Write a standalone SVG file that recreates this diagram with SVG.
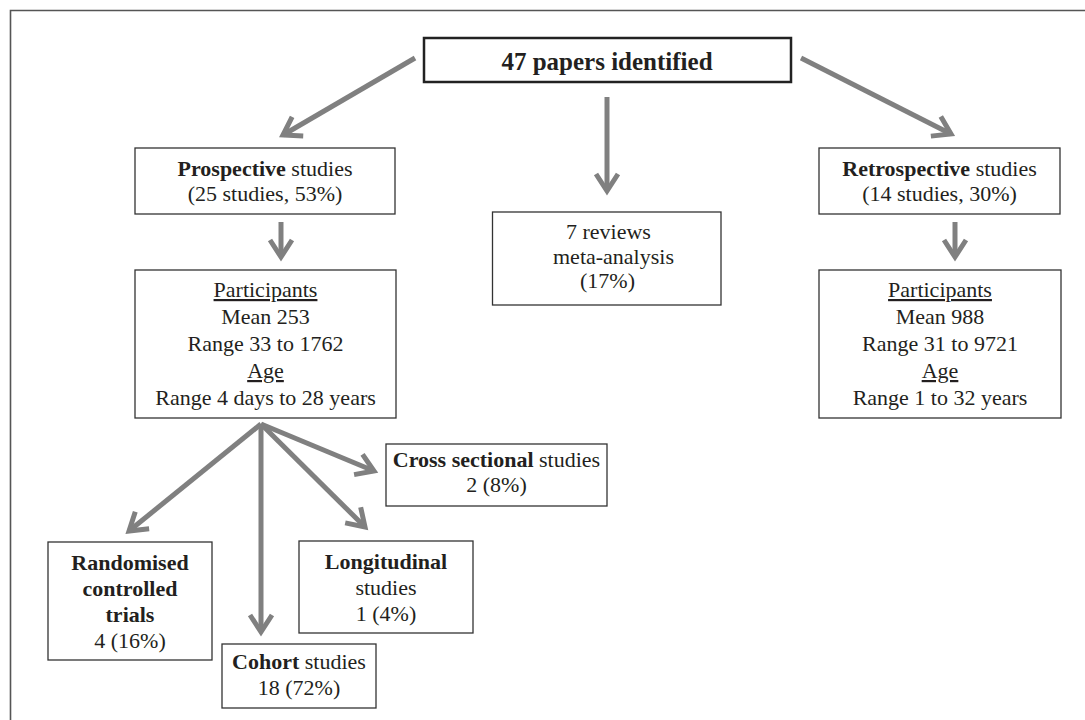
<svg xmlns="http://www.w3.org/2000/svg" width="1085" height="720" viewBox="0 0 1085 720">
<style>
text{font-family:"Liberation Serif","Times New Roman",serif;font-size:22px;fill:#231f20;text-anchor:middle}
.b{font-weight:bold}
.u{text-decoration:underline}
.box{fill:#fff;stroke:#333;stroke-width:1.3}
.arr{stroke:#808080;stroke-width:5;fill:none;marker-end:url(#ah)}
</style>
<defs>
<marker id="ah" markerUnits="userSpaceOnUse" orient="auto" refX="0" refY="0" markerWidth="40" markerHeight="40" viewBox="-25 -20 30 40" overflow="visible">
<path d="M-17,-11 L0,0 L-17,11" fill="none" stroke="#808080" stroke-width="5" stroke-linejoin="miter"/>
</marker>
</defs>
<rect width="1085" height="720" fill="#fff"/>
<path d="M10.5,720 V10.5 H1085" fill="none" stroke="#555" stroke-width="1.6"/>
<g id="connectors">
<line class="arr" x1="415" y1="58" x2="283" y2="135"/>
<line class="arr" x1="607" y1="97" x2="607" y2="191"/>
<line class="arr" x1="801" y1="58" x2="951" y2="134"/>
<line class="arr" x1="281" y1="222" x2="281" y2="257"/>
<line class="arr" x1="955" y1="222" x2="955" y2="257"/>
<line class="arr" x1="261" y1="424" x2="129" y2="531"/>
<line class="arr" x1="261" y1="424" x2="261" y2="632"/>
<line class="arr" x1="261" y1="424" x2="365" y2="527"/>
<line class="arr" x1="261" y1="424" x2="374" y2="471"/>
</g>
<g id="n-total">
<rect x="424" y="38" width="367" height="44" fill="#fff" stroke="#222" stroke-width="2.5"/>
<text class="b" x="607" y="70" style="font-size:25px">47 papers identified</text>
</g>
<g id="n-prospective">
<rect class="box" x="135" y="148" width="260" height="66"/>
<text x="265" y="176"><tspan class="b">Prospective</tspan> studies</text>
<text x="265" y="201">(25 studies, 53%)</text>
</g>
<g id="n-reviews">
<rect class="box" x="492.5" y="212" width="228.5" height="93"/>
<text x="566" y="239" style="text-anchor:start">7 reviews</text>
<text x="553" y="264" style="text-anchor:start">meta-analysis</text>
<text x="580" y="288" style="text-anchor:start">(17%)</text>
</g>
<g id="n-retrospective">
<rect class="box" x="819" y="148" width="241" height="66"/>
<text x="939.5" y="176"><tspan class="b">Retrospective</tspan> studies</text>
<text x="939.5" y="201">(14 studies, 30%)</text>
</g>
<g id="n-prosp-participants">
<rect class="box" x="135" y="270" width="261" height="148"/>
<text class="u" x="265.5" y="297">Participants</text>
<text x="265.5" y="324">Mean 253</text>
<text x="265.5" y="351">Range 33 to 1762</text>
<text class="u" x="265.5" y="378">Age</text>
<text x="265.5" y="405">Range 4 days to 28 years</text>
</g>
<g id="n-retro-participants">
<rect class="box" x="819" y="270" width="242" height="148"/>
<text class="u" x="940" y="297">Participants</text>
<text x="940" y="324">Mean 988</text>
<text x="940" y="351">Range 31 to 9721</text>
<text class="u" x="940" y="378">Age</text>
<text x="940" y="405">Range 1 to 32 years</text>
</g>
<g id="n-cross">
<rect class="box" x="386" y="444" width="221" height="62"/>
<text x="496.5" y="467"><tspan class="b">Cross sectional</tspan> studies</text>
<text x="496.5" y="492">2 (8%)</text>
</g>
<g id="n-rct">
<rect class="box" x="48" y="542" width="164" height="118"/>
<text class="b" x="130" y="570">Randomised</text>
<text class="b" x="130" y="596">controlled</text>
<text class="b" x="130" y="622">trials</text>
<text x="130" y="648">4 (16%)</text>
</g>
<g id="n-longitudinal">
<rect class="box" x="299" y="541" width="174" height="92"/>
<text class="b" x="386" y="569">Longitudinal</text>
<text x="386" y="595">studies</text>
<text x="386" y="621">1 (4%)</text>
</g>
<g id="n-cohort">
<rect class="box" x="222" y="644" width="154" height="64"/>
<text x="299" y="669"><tspan class="b">Cohort</tspan> studies</text>
<text x="299" y="695">18 (72%)</text>
</g>
</svg>
